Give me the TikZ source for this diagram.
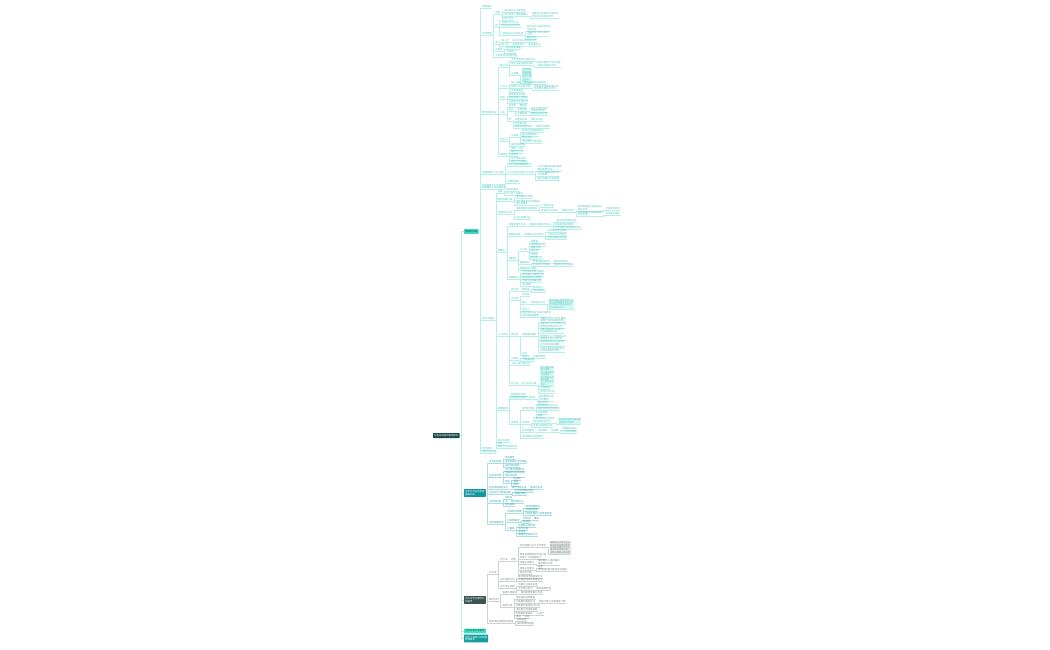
\documentclass[tikz,border=0pt]{standalone}
\usepackage{fontspec}
\newfontfamily\cjk{Noto Sans CJK SC}
\definecolor{tA}{RGB}{80,200,190}
\definecolor{uA}{RGB}{180,240,232}
\definecolor{tB}{RGB}{50,165,170}
\definecolor{uB}{RGB}{170,222,225}
\definecolor{tC}{RGB}{130,138,138}
\definecolor{uC}{RGB}{205,210,210}
\definecolor{bxA}{RGB}{214,248,243}
\definecolor{bxC}{RGB}{228,231,231}
\definecolor{rootc}{RGB}{28,72,74}
\definecolor{brA}{RGB}{62,216,198}
\definecolor{brB}{RGB}{22,150,160}
\definecolor{brC}{RGB}{58,84,84}
\definecolor{brD}{RGB}{64,226,196}
\definecolor{brE}{RGB}{16,158,160}
\tikzset{
 lfbase/.style={font=\cjk\fontsize{2.4}{2.7}\selectfont, inner sep=0.4pt, outer sep=0pt, anchor=south west, xshift=3pt, align=left},
 lfA/.style={lfbase,text=tA}, lfB/.style={lfbase,text=tB}, lfC/.style={lfbase,text=tC},
 cnA/.style={draw=uA,line width=0.6pt}, cnB/.style={draw=uB,line width=0.6pt}, cnC/.style={draw=uC,line width=0.6pt},
 boxA/.style={fill=bxA,inner sep=0.6pt,font=\cjk\fontsize{2.2}{2.4}\selectfont},
 boxC/.style={fill=bxC,inner sep=0.6pt,font=\cjk\fontsize{2.2}{2.4}\selectfont},
 br/.style={font=\cjk\fontsize{2.4}{2.7}\selectfont, inner sep=1.3pt, outer sep=0pt, anchor=west, align=left, minimum height=4.5pt, rounded corners=0.4pt},
 trunk/.style={draw=uA,line width=0.8pt},
 hub/.style={inner sep=0pt,outer sep=0pt,minimum size=0pt},
}
\newcommand\K[6][]{%
 \node[lf#2,#1] (#4) at (#3.south east |- 0,#5) {#6};
 \draw[cn#2] (#3.south east) -- ++(1.5,0) |- (#4.south west);
 \draw[cn#2] (#4.south west) -- (#4.south east);}
\begin{document}
\begin{tikzpicture}[x=1pt,y=-1pt]
\fill[white] (0,0) rectangle (1050,650);
\useasboundingbox (0,0) rectangle (1050,650);
% root and branches
\node[br,fill=rootc,text=white,minimum height=5pt] (root) at (433,435.5) {信息系统项目管理知识};
\node[br,fill=brA,text=rootc] (A) at (464,231.5) {管理知识域};
\node[br,fill=brB,text=white] (B) at (464,493) {信息化与信息系统\\基础知识};
\node[br,fill=brC,text=white] (C) at (464,600) {论文写作与案例分\\析指导};
\node[br,fill=brD,text=rootc] (D) at (464,631) {信息系统开发基础};
\node[br,fill=brE,text=white] (E) at (464,638.5) {软件工程知识与配置\\管理要点};
\foreach \b in {A,B,C,D,E} \draw[trunk] (root.east) -- ++(1.5,0) |- (\b.west);
\node[hub] (Ae) at (A.east) {};
\node[hub] (Be) at (B.east) {};
\node[hub] (Ce) at (C.east) {};
% ---------- branch A
\K{A}{Ae}{a1}{8.5}{项目概述}
\K{A}{Ae}{a2}{35.5}{立项管理}
\K{A}{Ae}{a3}{114.5}{整合管理过程}
\K{A}{Ae}{a4}{174.5}{范围管理与工作分解}
\K{A}{Ae}{a5}{189.5}{进度管理计划活动排序\\关键路径法与进度压缩}
\K{A}{Ae}{a6}{320.5}{成本与质量}
\K{A}{Ae}{a7}{450.5}{风险管理}
\K{A}{Ae}{a8}{453.5}{采购合同管理}
% a2
\K{A}{a2}{a2a}{14.5}{目标}
\K{A}{a2a}{a2a1}{12.5}{项目建议书主要内容}
\K{A}{a2a}{a2a2}{16.5}{可行性研究报告的编写}
\K{A}{a2a2}{a2a2a}{18}{详细可行性研究包括技术\\经济和社会效益评价}
\K{A}{a2}{a2b}{27.5}{类}
\K{A}{a2b}{a2b1}{20.5}{初步可行性}
\K{A}{a2b}{a2b2}{24}{项目评估与论证}
\K{A}{a2b}{a2b3}{27.5}{技术与经济可行性}
\K{A}{a2b}{a2b4}{35.5}{社会效益与运行环境}
\K{A}{a2b4}{a2b4a}{31}{财务评价与国民经济评\\价的方法}
\K{A}{a2b4}{a2b4b}{36.5}{不确定性分析与风险\\分析}
\K{A}{a2b4}{a2b4c}{39.5}{敏感分析}
\K{A}{a2}{a2c}{44.5}{期}
\K{A}{a2c}{a2c1}{42.5}{第一步}
\K{A}{a2c1}{a2c1a}{42.5}{成立评估小组制定计划}
\K{A}{a2c}{a2c2}{46}{第二步}
\K{A}{a2c2}{a2c2a}{46}{审查项目书}
\K{A}{a2c2a}{a2c2a1}{46}{编写报告书}
\K{A}{a2}{a2d}{51}{批准书}
\K{A}{a2d}{a2d1}{49.5}{发布项目章程}
\K{A}{a2d}{a2d2}{53}{合同签订}
\K{A}{a2}{a2e}{57.5}{立项申请与批复流程}
% a3
\K{A}{a3}{a3a}{67.5}{输入项}
\K{A}{a3a}{a3a1}{61.5}{工作说明书与商业论证}
\K{A}{a3a}{a3a2}{65}{协议与事业环境因素}
\K{A}{a3a2}{a3a2a}{67}{组织过程资产包括流程\\与程序以及知识库}
\K{A}{a3a}{a3a3}{75.5}{工具集}
\K[boxA]{A}{a3a3}{a3a3a}{83.5}{专家判断\\数据收集\\头脑风暴\\焦点小组\\访谈法\\会议}
\K{A}{a3}{a3b}{88.5}{计划书}
\K{A}{a3b}{a3b1}{84.5}{输入依据}
\K{A}{a3b1}{a3b1a}{84.5}{章程和其他过程输出}
\K{A}{a3b}{a3b2}{88.5}{管理计划主要内容}
\K{A}{a3b2}{a3b2a}{90.5}{范围基准进度基准和成\\本基准以及各子计划}
\K{A}{a3b}{a3b3}{92}{变更管理表}
\K{A}{a3}{a3c}{99.5}{过程}
\K{A}{a3c}{a3c1}{96}{管理项目知识库}
\K{A}{a3c}{a3c2}{99.5}{监控项目工作绩效}
\K{A}{a3c}{a3c3}{103}{实施整体变更控制}
\K{A}{a3}{a3d}{114}{工具}
\K{A}{a3d}{a3d1}{107}{技术类}
\K{A}{a3d1}{a3d1a}{107}{数据类}
\K{A}{a3d}{a3d2}{111}{会议}
\K{A}{a3d2}{a3d2a}{111}{变更控制}
\K{A}{a3d2a}{a3d2a1}{112.5}{变更控制委员会\\负责审批变更}
\K{A}{a3d2}{a3d2b}{115.5}{配置管理}
\K{A}{a3d2b}{a3d2b1}{115.5}{配置识别与记录}
\K{A}{a3d}{a3d3}{121.5}{表}
\K{A}{a3d3}{a3d3a}{121.5}{变更日志表}
\K{A}{a3d3a}{a3d3a1}{121.5}{问题日志表}
\K{A}{a3d3}{a3d3b}{125}{经验教训库}
\K{A}{a3d3}{a3d3c}{128.5}{假设日志里程碑}
\K{A}{a3d3c}{a3d3c1}{128.5}{项目文件更新}
\K{A}{a3}{a3e}{141.5}{知识点}
\K{A}{a3e}{a3e1}{137.5}{三要素}
\K{A}{a3e1}{a3e1a}{132.5}{管理计划的编制要点}
\K{A}{a3e1}{a3e1b}{136}{整合管理的核心}
\K{A}{a3e1}{a3e1c}{139.5}{阶段评审}
\K{A}{a3e1}{a3e1d}{143}{项目收尾行政收尾}
\K{A}{a3e}{a3e2}{146.5}{结束项目阶段}
\K{A}{a3}{a3f}{156.5}{案例题}
\K{A}{a3f}{a3f1}{150}{案例一分析}
\K{A}{a3f}{a3f2}{153}{案例二分析}
\K{A}{a3f}{a3f3}{156.5}{答题点}
\K{A}{a3f}{a3f4}{160}{常见错误归纳}
\K{A}{a3f}{a3f5}{163.5}{案例分析答题法}
% a4
\K{A}{a4}{a4a}{166}{规划范围管理收集需求}
\K{A}{a4}{a4b}{174.5}{定义范围与创建工作分解}
\K{A}{a4b}{a4b1}{171}{工作分解结构是项目范\\围的层级分解}
\K{A}{a4b}{a4b2}{176.5}{工作包是最底层的可\\交付成果}
\K{A}{a4b}{a4b3}{180}{确认范围与控制范围}
\K{A}{a4}{a4c}{183.5}{范围的蔓延}
% a6
\K{A}{a6}{a6a}{193.5}{估算}
\K{A}{a6a}{a6a1}{191.5}{类比估算法}
\K{A}{a6a}{a6a2}{195}{自下而上估算法}
\K{A}{a6}{a6b}{201}{制定预算过程}
\K{A}{a6b}{a6b1}{198.5}{成本基准的构成}
\K{A}{a6b}{a6b2}{205.5}{管理储备和应急储备的\\区别与联系}
\K{A}{a6}{a6c}{214.5}{控制成本方法}
\K{A}{a6c}{a6c1}{210}{挣值管理的关键指标}
\K{A}{a6c1}{a6c1a}{207}{计划的价值}
\K{A}{a6c1}{a6c1b}{212.5}{挣值与实际成本}
\K{A}{a6c1b}{a6c1b1}{212.5}{偏差分析法}
\K{A}{a6c1b1}{a6c1b1a}{211}{成本偏差等于挣值减去\\实际成本}
\K{A}{a6c1b1a}{a6c1b1a1}{210}{负值表示超支}
\K{A}{a6c1b1}{a6c1b1b}{216.5}{进度偏差等于挣值减去\\计划价值}
\K{A}{a6c1b1b}{a6c1b1b1}{215.5}{负值表示落后}
\K{A}{a6c}{a6c2}{219.5}{完工估算方法}
\K{A}{a6}{a6d}{252.5}{质量类}
\K{A}{a6d}{a6d1}{226}{质量管理计划书}
\K{A}{a6d1}{a6d1a}{226}{质量成本效益分析法}
\K{A}{a6d1a}{a6d1a1}{222.5}{一致性成本预防成本}
\K{A}{a6d1a}{a6d1a2}{226}{评估成本失败成本}
\K{A}{a6d1a}{a6d1a3}{229.5}{内部失败与外部失败成本}
\K{A}{a6d}{a6d2}{236}{质量保证类}
\K{A}{a6d2}{a6d2a}{236}{质量审计过程分析}
\K{A}{a6d2a}{a6d2a1}{232.5}{识别良好最佳实践}
\K{A}{a6d2a}{a6d2a2}{236}{分享良好实践经验}
\K{A}{a6d2a}{a6d2a3}{239.5}{提供协助改进过程}
\K{A}{a6d}{a6d3}{260}{控制类}
\K{A}{a6d3}{a6d3a}{251}{七工具}
\K{A}{a6d3a}{t1}{243}{因果图}
\K{A}{a6d3a}{t2}{246}{流程图核查表}
\K{A}{a6d3a}{t3}{249}{帕累托图}
\K{A}{a6d3a}{t4}{252.5}{直方图}
\K{A}{a6d3a}{t5}{256}{控制图}
\K{A}{a6d3a}{t6}{259}{散点图分析}
\K{A}{a6d3}{a6d3b}{264}{测量指标}
\K{A}{a6d3b}{a6d3b1}{263}{质量测量指标项}
\K{A}{a6d3b1}{a6d3b1a}{263}{缺陷频率统计}
\K{A}{a6d3b}{a6d3b2}{266.5}{核实的交付成果}
\K{A}{a6d3b2}{a6d3b2a}{266.5}{验收的可交付成果}
\K{A}{a6d3}{a6d3c}{270}{质量报告与测试}
\K{A}{a6d}{a6d4}{279}{成果输出}
\K{A}{a6d4}{a6d4a}{273}{工作绩效信息与数据}
\K{A}{a6d4}{a6d4b}{276}{变更请求与更新文件}
\K{A}{a6d4}{a6d4c}{279.5}{项目管理计划更新}
\K{A}{a6d4}{a6d4d}{282.5}{质量控制测量结果}
\K{A}{a6d4}{a6d4e}{286}{经验教训}
\K{A}{a6}{a6e}{336}{人力资源}
\K{A}{a6e}{a6e1}{291}{团队类}
\K{A}{a6e1}{a6e1a}{291}{激励法}
\K{A}{a6e1a}{a6e1a1}{289}{需求层次}
\K{A}{a6e1a}{a6e1a2}{292.5}{双因素理论}
\K{A}{a6e}{a6e2}{300}{冲突类}
\K{A}{a6e2}{a6e2a}{296}{冲突源}
\K{A}{a6e2}{a6e2b}{304}{解决}
\K{A}{a6e2b}{a6e2b1}{304}{冲突解决方法}
\K[boxA]{A}{a6e2b1}{a6e2b1a}{309}{撤退回避与缓和包容方式\\妥协调解和强迫命令方式\\合作解决问题是最有效\\的冲突解决方法}
\K{A}{a6e2}{a6e2c}{311.5}{影响力}
\K{A}{a6e2}{a6e2d}{316.8}{团队发展阶段包括形成震荡\\规范成熟和解散}
\K{A}{a6e}{a6e3}{336}{理论类}
\K{A}{a6e3}{a6e3a}{336}{管理理论概述}
\K{A}{a6e3a}{m1}{322.5}{X理论认为员工天生懒惰\\需要严格的监督和控制}
\K{A}{a6e3a}{m2}{328}{Y理论认为员工积极主动\\愿意承担责任和工作}
\K{A}{a6e3a}{m3}{333.5}{Z理论强调员工的参与\\和长期雇佣关系}
\K{A}{a6e3a}{m4}{340.5}{期望理论认为激励取决于\\期望值和效价的乘积}
\K{A}{a6e3a}{m5}{346.2}{成就激励理论包括成就\\权力和亲和的需要}
\K{A}{a6e3a}{m6}{352.5}{领导风格包括指导型支\\持型和授权型领导}
\K{A}{a6e3}{a6e3b}{355}{总结}
\K{A}{a6e}{a6e4}{360}{沟通类}
\K{A}{a6e4}{a6e4a}{358}{沟通法}
\K{A}{a6e4a}{a6e4a1}{358}{沟通的模型}
\K{A}{a6e4}{a6e4b}{361.5}{沟通渠道数}
\K{A}{a6e}{a6e5}{365}{干系人参与度评估}
\K{A}{a6e}{a6e6}{385}{权力类}
\K{A}{a6e6}{a6e6a}{385}{权力利益方格}
\K[boxA]{A}{a6e6a}{a6e6a1}{386}{权力高利益高\\重点管理\\权力高利益低\\令其满意\\权力低利益高\\随时告知\\权力低利益低\\监督}
\K{A}{a6e6a}{a6e6a2}{389.5}{凸显模型}
\K{A}{a6e6a}{a6e6a3}{393}{影响方向分类}
\K{A}{a6}{a6f}{410}{配置管理}
\K{A}{a6f}{a6f1}{396}{配置项的分类}
\K{A}{a6f}{a6f2}{399.5}{配置管理数据库与基线}
\K{A}{a6f2}{a6f2a}{401}{基线是经评审\\的配置项}
\K{A}{a6f}{a6f3}{424}{变更类}
\K{A}{a6f3}{a6f3a}{410}{变更的流程}
\K{A}{a6f3a}{v1}{404}{提出申请}
\K{A}{a6f3a}{v2}{407}{变更影响评估分析}
\K{A}{a6f3a}{v3}{410.5}{变更控制委员会审批}
\K{A}{a6f3a}{v4}{414}{实施变更}
\K{A}{a6f3a}{v5}{417}{跟踪}
\K{A}{a6f3}{a6f3b}{424}{变更单}
\K{A}{a6f3b}{a6f3b1}{423}{变更申请单包括变更\\原因和影响分析}
\K[boxA]{A}{a6f3b1}{a6f3b1a}{424}{由项目经理提交给变更\\控制委员会审批}
\K{A}{a6f3b}{a6f3b2}{427}{变更记录变更日志}
\K{A}{a6f3}{a6f3c}{432}{版本管理类}
\K{A}{a6f3c}{a6f3c1}{432}{版本规则}
\K{A}{a6f3c1}{a6f3c1a}{432}{规则集}
\K{A}{a6f3c1a}{a6f3c1a1}{430}{草稿版本编号}
\K{A}{a6f3c1a}{a6f3c1a2}{433.5}{正式版本编号}
\K{A}{a6f3}{a6f3d}{438}{基线管理与配置审计}
\K{A}{a6}{a6g}{442}{监控与收尾}
\K{A}{a6}{a6h}{445}{附录}
\K{A}{a6}{a6i}{448}{知识体系框架总结}
% ---------- branch B
\K{B}{Be}{b1}{463.5}{信息化基础}
\K{B}{b1}{b1a}{459.5}{信息概念}
\K{B}{b1}{b1b}{463.5}{信息系统的生命周期}
\K{B}{b1}{b1c}{467.5}{信息化的体系}
\K{B}{Be}{b2}{477}{信息技术类}
\K{B}{b2}{b2a}{471.5}{云计算大数据技术}
\K{B}{b2}{b2b}{477}{物联网与移动互联\\网技术应用}
\K{B}{b2}{b2c}{483}{其他}
\K{B}{b2c}{b2c1}{480}{区块链}
\K{B}{b2c}{b2c2}{483}{智能}
\K{B}{b2c}{b2c3}{486}{虚拟}
\K{B}{Be}{b3}{489}{信息系统架构设计}
\K{B}{b3}{b3a}{489}{软件工程方法}
\K{B}{b3a}{b3a1}{489}{面向对象法}
\K{B}{Be}{b4}{494}{信息安全与数据治理}
\K{B}{b4}{b4a}{492}{信息安全等级保护}
\K{B}{b4}{b4b}{495.5}{数据标准化}
\K{B}{Be}{b5}{503}{法律法规类}
\K{B}{b5}{b5a}{499}{合同法}
\K{B}{b5}{b5b}{503}{法}
\K{B}{b5b}{b5b1}{503}{招标投标法}
\K{B}{b5}{b5c}{506}{政府采购}
\K{B}{Be}{b6}{524}{项目管理标准}
\K{B}{b6}{b6a}{513}{项目组合管理}
\K{B}{b6a}{b6a1}{508}{组合管理原则}
\K{B}{b6a}{b6a2}{511.5}{项目集管理}
\K{B}{b6a}{b6a3}{515}{项目管理办公室类型职能}
\K{B}{b6}{b6b}{522}{生命周期型}
\K{B}{b6b}{b6b1}{520}{预测型}
\K{B}{b6b1}{b6b1a}{520}{瀑布}
\K{B}{b6b}{b6b2}{523}{敏捷型}
\K{B}{b6}{b6c}{530}{过程组}
\K{B}{b6c}{b6c1}{527}{启动组与规划组}
\K{B}{b6c}{b6c2}{530}{执行过程}
\K{B}{b6c}{b6c3}{533}{监控组}
\K{B}{b6c}{b6c4}{536.5}{收尾过程组的工作}
% ---------- branch C
\K{C}{Ce}{c1}{574}{论文类}
\K{C}{c1}{c1a}{561}{写作法}
\K{C}{c1a}{c1a1}{561}{结构}
\K{C}{c1a1}{c1a1a}{547}{论文摘要与正文写作要求}
\K[boxC]{C}{c1a1a}{c1a1a1}{554}{摘要部分三百字左右\\概括项目背景和角色\\正文部分两千字以上\\结合实际项目经验\\注意过程和工具运用}
\K{C}{c1a1}{c1a1b}{559}{项目背景要真实可信并且\\体现个人的管理能力}
\K{C}{c1a1}{c1a1c}{564}{过程论述要点}
\K{C}{c1a1c}{c1a1c1}{565}{按照输入工具和输出\\逐项展开论述}
\K{C}{c1a1}{c1a1d}{570}{结尾总结要点}
\K{C}{c1a1d}{c1a1d1}{568}{经验}
\K{C}{c1a1d}{c1a1d2}{571.5}{总结经验教训提出改进措施}
\K{C}{c1a1}{c1a1e}{574.5}{常见的问题}
\K{C}{c1}{c1b}{581}{论文选题方向}
\K{C}{c1b}{c1b1}{578}{整合管理范围管理论文}
\K{C}{c1b}{c1b2}{581.5}{进度管理成本管理论文}
\K{C}{c1}{c1c}{588}{论文评分标准}
\K{C}{c1c}{c1c1}{586}{切题与内容充实度}
\K{C}{c1c}{c1c2}{590.5}{文字表达能力}
\K{C}{c1c2}{c1c2a}{590.5}{结构清晰合理}
\K{C}{Ce}{c2}{601}{案例分析}
\K{C}{c2}{c2a}{594}{答题注意事项}
\K{C}{c2a}{c2a1}{594}{找问题要全面分条答}
\K{C}{c2}{c2b}{607}{题型分类}
\K{C}{c2b}{c2b1}{599}{找错误并说明理由}
\K{C}{c2b}{c2b2}{603}{计算题的解题方法}
\K{C}{c2b2}{c2b2a}{603}{挣值计算与关键路径计算}
\K{C}{c2b}{c2b3}{607}{问答题的答题技巧分析}
\K{C}{c2b}{c2b4}{611}{填空题与选择题答题}
\K{C}{c2b}{c2b5}{615}{判断题的答题法}
\K{C}{c2b5}{c2b5a}{615}{小技巧}
\K{C}{c2b}{c2b6}{618}{其他}
\K{C}{c2b6}{c2b6a}{618}{补充}
\K{C}{Ce}{c3}{623}{高级项目管理组织管理}
\K{C}{c3}{c3a}{621}{战略管理}
\K{C}{c3}{c3b}{625}{项目管理成熟度}
\end{tikzpicture}
\end{document}
